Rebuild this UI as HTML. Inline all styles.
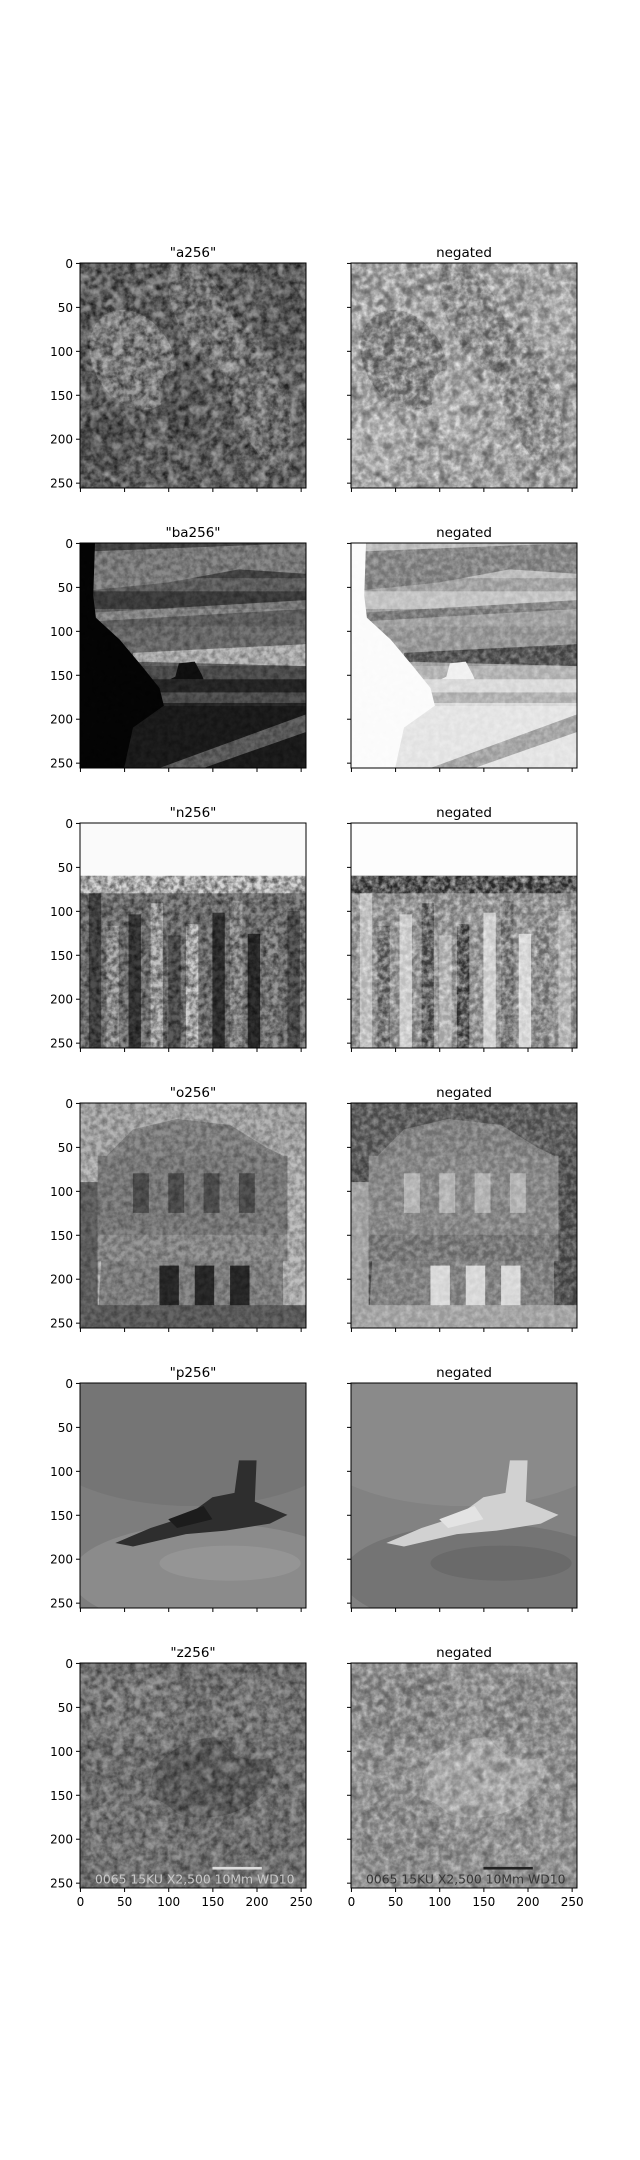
<!DOCTYPE html>
<html><head><meta charset="utf-8">
<style>
html,body{margin:0;padding:0;background:#fff;}
#fig{position:relative;width:640px;height:2160px;overflow:hidden;}
svg text{font-family:"DejaVu Sans","Liberation Sans",sans-serif;}
</style></head>
<body>
<div id="fig">
<svg id="root" width="640" height="2160" xmlns="http://www.w3.org/2000/svg">
<defs>
<filter id="tex" x="0" y="0" width="1" height="1">
<feTurbulence type="fractalNoise" baseFrequency="0.16" numOctaves="3" seed="4"/>
<feColorMatrix type="matrix" values="0 0 0 0 0  0 0 0 0 0  0 0 0 0 0  1.3 0 0 0 -0.4"/>
</filter>
<filter id="tex2" x="0" y="0" width="1" height="1">
<feTurbulence type="fractalNoise" baseFrequency="0.08" numOctaves="2" seed="9"/>
<feColorMatrix type="matrix" values="0 0 0 0 1  0 0 0 0 1  0 0 0 0 1  1.4 0 0 0 -0.6"/>
</filter>
</defs>
</svg>
</div>
<script>
const titles = ['"a256"', '"ba256"', '"n256"', '"o256"', '"p256"', '"z256"'];
const tickValues = [0, 50, 100, 150, 200, 250];
const tickLabels = ['0', '50', '100', '150', '200', '250'];
const imgSize = 256;

const NS = 'http://www.w3.org/2000/svg';
const root = document.getElementById('root');
const colX = [80, 351];
const axW = 226, axH = 225, rowTop0 = 263, rowPitch = 280;

function mk(tag, attrs, parent) {
  const e = document.createElementNS(NS, tag);
  for (const k in attrs) e.setAttribute(k, attrs[k]);
  parent.appendChild(e);
  return e;
}
function xScale(v, x0) { return x0 + (v + 0.5) / imgSize * axW; }
function yScale(v, y0) { return y0 + (v + 0.5) / imgSize * axH; }

function drawScene(i, g) {
  const R = (x, y, w, h, f, o) => mk('rect', {x, y, width: w, height: h, fill: f, opacity: o == null ? 1 : o}, g);
  const E = (cx, cy, rx, ry, f, o, rot) => mk('ellipse', {cx, cy, rx, ry, fill: f, opacity: o == null ? 1 : o, transform: rot ? `rotate(${rot} ${cx} ${cy})` : ''}, g);
  const P = (pts, f, o) => mk('polygon', {points: pts, fill: f, opacity: o == null ? 1 : o}, g);
  if (i === 0) {
    R(0, 0, 256, 256, '#6a6a6a');
    E(60, 110, 45, 60, '#9a9a9a', 0.8, -30);
    E(140, 60, 30, 70, '#8d8d8d', 0.7, -25);
    E(200, 150, 30, 90, '#909090', 0.6, -20);
    E(120, 170, 25, 50, '#5a5a5a', 0.7, -20);
    E(30, 200, 30, 40, '#555', 0.7);
    E(230, 60, 25, 40, '#5e5e5e', 0.7);
    R(0, 0, 256, 256, '#000', 1).setAttribute('filter', 'url(#tex)');
    R(0, 0, 256, 256, '#000', 0.7).setAttribute('filter', 'url(#tex2)');
  } else if (i === 1) {
    R(0, 0, 256, 256, '#6a6a6a');
    R(0, 0, 256, 40, '#4a4a4a');
    P('0,10 256,0 256,35 180,30 100,45 0,55', '#9a9a9a', 0.8);
    R(0, 55, 256, 20, '#3a3a3a', 0.8);
    P('0,80 256,65 256,75 0,90', '#b0b0b0', 0.6);
    R(0, 95, 256, 30, '#777');
    P('60,125 256,115 256,140 60,135', '#c8c8c8', 0.9);
    R(0, 140, 256, 15, '#555');
    R(0, 155, 256, 30, '#2a2a2a');
    R(40, 170, 216, 12, '#777', 0.6);
    R(0, 185, 256, 71, '#1e1e1e');
    P('90,256 256,195 256,215 140,256', '#777', 0.8);
    P('108,152 112,137 130,135 138,150 140,155 102,155', '#111');
    P('0,0 17,0 15,60 18,85 45,110 70,140 90,165 95,185 60,210 50,256 0,256', '#050505');
    R(0, 0, 256, 256, '#000', 0.5).setAttribute('filter', 'url(#tex)');
  } else if (i === 2) {
    R(0, 0, 256, 256, '#8a8a8a');
    R(0, 0, 256, 60, '#f7f7f7');
    R(0, 55, 256, 25, '#d8d8d8');
    const xs = [10, 30, 55, 80, 100, 120, 150, 170, 190, 210, 235];
    const cs = ['#444', '#bbb', '#333', '#ccc', '#555', '#ddd', '#2a2a2a', '#aaa', '#222', '#999', '#555'];
    xs.forEach((x, k) => R(x, 80 + (k * 37) % 50, 14, 200, cs[k], 0.85));
    R(0, 0, 256, 256, '#000', 0.9).setAttribute('filter', 'url(#tex)');
    R(0, 0, 256, 60, '#fafafa');
  } else if (i === 3) {
    R(0, 0, 256, 256, '#c0c0c0');
    R(0, 0, 256, 60, '#b5b5b5');
    P('30,60 60,30 110,18 170,25 210,50 230,60 230,256 20,256', '#8e8e8e');
    R(20, 60, 215, 90, '#888');
    [60, 100, 140, 180].forEach(x => R(x, 80, 18, 45, '#555'));
    [90, 130, 170].forEach(x => R(x, 185, 22, 55, '#2c2c2c'));
    R(20, 150, 215, 30, '#999');
    R(0, 230, 256, 26, '#666');
    R(0, 90, 20, 160, '#6a6a6a');
    R(0, 0, 256, 256, '#000', 0.5).setAttribute('filter', 'url(#tex)');
  } else if (i === 4) {
    R(0, 0, 256, 256, '#7d7d7d');
    E(128, 60, 180, 80, '#737373', 0.8);
    E(150, 220, 160, 60, '#8f8f8f', 0.8);
    E(170, 205, 80, 20, '#a0a0a0', 0.5);
    P('40,182 80,165 120,152 150,130 175,125 180,88 200,88 198,135 235,150 215,160 165,168 120,172 60,186', '#2e2e2e');
    P('100,155 140,140 150,155 110,165', '#1c1c1c');
  } else {
    R(0, 0, 256, 256, '#7a7a7a');
    E(150, 130, 70, 45, '#5a5a5a', 0.8, -10);
    E(60, 50, 60, 40, '#8a8a8a', 0.6);
    E(200, 60, 50, 50, '#858585', 0.6);
    E(60, 200, 60, 50, '#868686', 0.6);
    R(0, 0, 256, 256, '#000', 0.7).setAttribute('filter', 'url(#tex)');
    R(0, 0, 256, 256, '#000', 0.5).setAttribute('filter', 'url(#tex2)');
    R(150, 232, 56, 3, '#ddd');
    const lbl = mk('text', {x: 130, y: 251, 'text-anchor': 'middle', 'font-size': 14, fill: '#c8c8c8', 'font-family': 'Liberation Mono, monospace'}, g);
    lbl.textContent = '0065  15KU   X2,500  10Mm WD10';
  }
}

for (let r = 0; r < titles.length; r++) {
  const y0 = rowTop0 + r * rowPitch;
  for (let c = 0; c < 2; c++) {
    const x0 = colX[c];
    const ax = mk('g', {}, root);
    
    
    const img = mk('svg', {x: x0, y: y0, width: axW, height: axH, viewBox: '0 0 256 256', preserveAspectRatio: 'none'}, ax);
    
    
    const g = mk('g', {}, img);
    if (c === 1) g.setAttribute('style', 'filter:invert(1)');
    drawScene(r, g);
    if (c === 1 && r === 2) mk('rect', {x: 0, y: 0, width: 256, height: 60, fill: '#fdfdfd'}, img);
    const frame = mk('rect', {x: x0, y: y0, width: axW, height: axH, fill: 'none', stroke: '#000', 'stroke-width': 1}, ax);
    
    
    const t = mk('text', {x: x0 + axW / 2, y: y0 - 6, 'text-anchor': 'middle', 'font-size': 13.5, fill: '#000'}, ax);
    
    
    t.textContent = c === 0 ? titles[r] : 'negated';
    tickValues.forEach((v, k) => {
      const yy = yScale(v, y0);
      mk('line', {x1: x0 - 4, x2: x0, y1: yy, y2: yy, stroke: '#000', 'stroke-width': 1}, ax);
      if (c === 0) {
        const tl = mk('text', {x: x0 - 7, y: yy + 4.5, 'text-anchor': 'end', 'font-size': 12, fill: '#000'}, ax);
        
        
        tl.textContent = tickLabels[k];
      }
      const xx = xScale(v, x0);
      mk('line', {x1: xx, x2: xx, y1: y0 + axH, y2: y0 + axH + 4, stroke: '#000', 'stroke-width': 1}, ax);
      if (r === titles.length - 1) {
        const xl = mk('text', {x: xx, y: y0 + axH + 18, 'text-anchor': 'middle', 'font-size': 12, fill: '#000'}, ax);
        
        
        xl.textContent = tickLabels[k];
      }
    });
  }
}
</script>
</body></html>
